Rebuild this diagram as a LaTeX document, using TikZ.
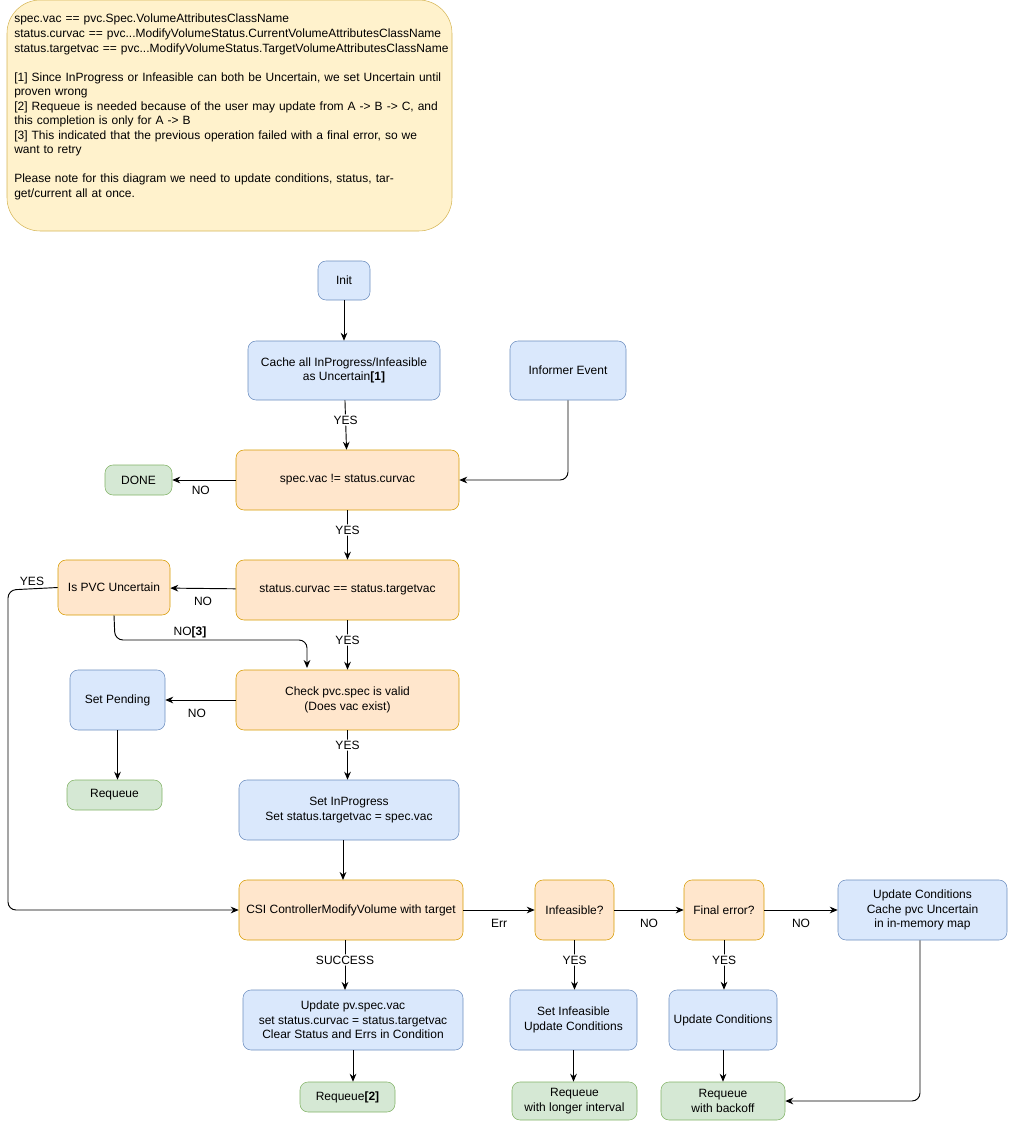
\documentclass[tikz,border=0pt]{standalone}
\usepackage{fontspec}
\setmainfont{Liberation Sans}
\usetikzlibrary{arrows.meta}
\definecolor{bF}{HTML}{DAE8FC}\definecolor{bS}{HTML}{6C8EBF}
\definecolor{oF}{HTML}{FFE6CC}\definecolor{oS}{HTML}{D79B00}
\definecolor{gF}{HTML}{D5E8D4}\definecolor{gS}{HTML}{82B366}
\definecolor{yF}{HTML}{FFF2CC}\definecolor{yS}{HTML}{D6B656}
\tikzset{
 box/.style={draw,rounded corners=6pt,align=center,inner sep=0pt,font=\fontsize{9}{10.9}\selectfont},
 blue/.style={box,fill=bF,draw=bS},
 orange/.style={box,fill=oF,draw=oS},
 green/.style={box,fill=gF,draw=gS},
 arr/.style={-{Stealth[length=6pt,width=5pt]},line width=0.7pt,rounded corners=6pt},
 lbl/.style={fill=white,inner sep=1pt,font=\fontsize{9}{10.9}\selectfont}
}
\begin{document}
\begin{tikzpicture}[x=0.75pt,y=-0.75pt]
\useasboundingbox (0,0) rectangle (1008,1121);
% note
\node[draw=yS,fill=yF,rounded corners=25pt,minimum width=445*0.75pt,minimum height=231*0.75pt,inner sep=0pt] (note) at (229.5,115.5) {};
\node[anchor=north west,align=left,inner sep=0pt,font=\fontsize{9}{10.9}\selectfont,text width=430*0.75pt] (nt) at (14,14) {spec.vac == pvc.Spec.VolumeAttributesClassName\\
status.curvac == pvc...ModifyVolumeStatus.CurrentVolumeAttributesClassName\\
status.targetvac == pvc...ModifyVolumeStatus.TargetVolumeAttributesClassName\\[10.9pt]
{[}1] Since InProgress or Infeasible can both be Uncertain, we set Uncertain until proven wrong\\
{[}2] Requeue is needed because of the user may update from A -> B -> C, and this completion is only for A -> B\\
{[}3] This indicated that the previous operation failed with a final error, so we want to retry\\[10.9pt]
Please note for this diagram we need to update conditions, status, target/current all at once.};
\node[blue,minimum width=52*0.75pt,minimum height=39*0.75pt] (init) at (344,280.5) {Init};
\node[blue,minimum width=192*0.75pt,minimum height=59*0.75pt] (cache) at (344,370.5) {Cache all InProgress/Infeasible\\as Uncertain\textbf{[1]}};
\node[blue,minimum width=116*0.75pt,minimum height=59*0.75pt] (inf) at (568,370.5) {Informer Event};
\node[orange,minimum width=223*0.75pt,minimum height=60*0.75pt] (spec) at (347.5,480) {spec.vac != status.curvac};
\node[green,minimum width=67*0.75pt,minimum height=30*0.75pt] (done) at (138.5,480) {DONE};
\node[orange,minimum width=223*0.75pt,minimum height=60*0.75pt] (stat) at (347.5,590) {status.curvac == status.targetvac};
\node[orange,minimum width=112*0.75pt,minimum height=55*0.75pt] (unc) at (114,587.5) {Is PVC Uncertain};
\node[orange,minimum width=223*0.75pt,minimum height=60*0.75pt] (chk) at (347.5,700) {Check pvc.spec is valid\\(Does vac exist)};
\node[blue,minimum width=95*0.75pt,minimum height=60*0.75pt] (pend) at (117.5,700) {Set Pending};
\node[green,minimum width=95*0.75pt,minimum height=30*0.75pt] (rq1) at (114.5,795) {Requeue};
\node[blue,minimum width=220*0.75pt,minimum height=60*0.75pt] (inp) at (349,810) {Set InProgress\\Set status.targetvac = spec.vac};
\node[orange,minimum width=224*0.75pt,minimum height=60*0.75pt] (csi) at (351,910) {CSI ControllerModifyVolume with target};
\node[orange,minimum width=79*0.75pt,minimum height=60*0.75pt] (infq) at (574.5,910) {Infeasible?};
\node[orange,minimum width=80*0.75pt,minimum height=60*0.75pt] (fin) at (724,910) {Final error?};
\node[blue,minimum width=169*0.75pt,minimum height=60*0.75pt] (upc) at (922.5,910) {Update Conditions\\Cache pvc Uncertain\\in in-memory map};
\node[blue,minimum width=220*0.75pt,minimum height=60*0.75pt] (upv) at (353,1020) {Update pv.spec.vac\\set status.curvac = status.targetvac\\Clear Status and Errs in Condition};
\node[blue,minimum width=127*0.75pt,minimum height=60*0.75pt] (sinf) at (573.5,1020) {Set Infeasible\\Update Conditions};
\node[blue,minimum width=108*0.75pt,minimum height=60*0.75pt] (ucond) at (723,1020) {Update Conditions};
\node[green,minimum width=95*0.75pt,minimum height=30*0.75pt] (rq2) at (347.5,1097) {Requeue\textbf{[2]}};
\node[green,minimum width=125*0.75pt,minimum height=38*0.75pt] (rq3) at (574.5,1101) {Requeue\\with longer interval};
\node[green,minimum width=124*0.75pt,minimum height=38*0.75pt] (rq4) at (723,1101) {Requeue\\with backoff};
% edges
\draw[arr] (init) -- (cache);
\draw[arr] (cache) -- node[lbl,pos=0.4]{YES} (spec);
\draw[arr] (inf.south) -- (568,480) -- (spec.east);
\draw[arr] (spec) -- node[lbl,pos=0.55,yshift=-8]{NO} (done);
\draw[arr] (spec) -- node[lbl,pos=0.4]{YES} (stat);
\draw[arr] (stat) -- node[lbl,pos=0.5,yshift=-10]{NO} (unc);
\draw[arr] (stat) -- node[lbl,pos=0.4]{YES} (chk);
\coordinate (c1) at (307,668);
\draw[arr] (unc.south) -- (115,640) -- (307,640) -- (c1);
\node[lbl,fill=none] (n3) at (190,632) {NO\textbf{[3]}};
\coordinate (c2) at (8,910);
\draw[arr] (unc.west) -- (8,590) -- (c2) -- (csi.west);
\node[lbl] (y1) at (32,581) {YES};
\draw[arr] (chk) -- node[lbl,pos=0.55,yshift=-10]{NO} (pend);
\draw[arr] (pend) -- (pend|-rq1.north);
\draw[arr] (chk) -- node[lbl,pos=0.3]{YES} (chk|-inp.north);
\draw[arr] (inp.south-|343,0) -- (343,880);
\draw[arr] (csi) -- node[lbl,pos=0.5,yshift=-10]{Err} (infq);
\draw[arr] (infq) -- node[lbl,pos=0.5,yshift=-10]{NO} (fin);
\draw[arr] (fin) -- node[lbl,pos=0.5,yshift=-10]{NO} (upc);
\draw[arr] (345,940) -- node[lbl,pos=0.4]{SUCCESS} (345,990);
\draw[arr] (infq) -- node[lbl,pos=0.4]{YES} (infq|-sinf.north);
\draw[arr] (fin) -- node[lbl,pos=0.4]{YES} (fin|-ucond.north);
\draw[arr] (upv) -- (upv|-rq2.north);
\draw[arr] (sinf) -- (sinf|-rq3.north);
\draw[arr] (ucond) -- (ucond|-rq4.north);
\draw[arr] (upc.south-|920,0) -- (920,1101) -- (rq4.east);
\end{tikzpicture}
\end{document}
